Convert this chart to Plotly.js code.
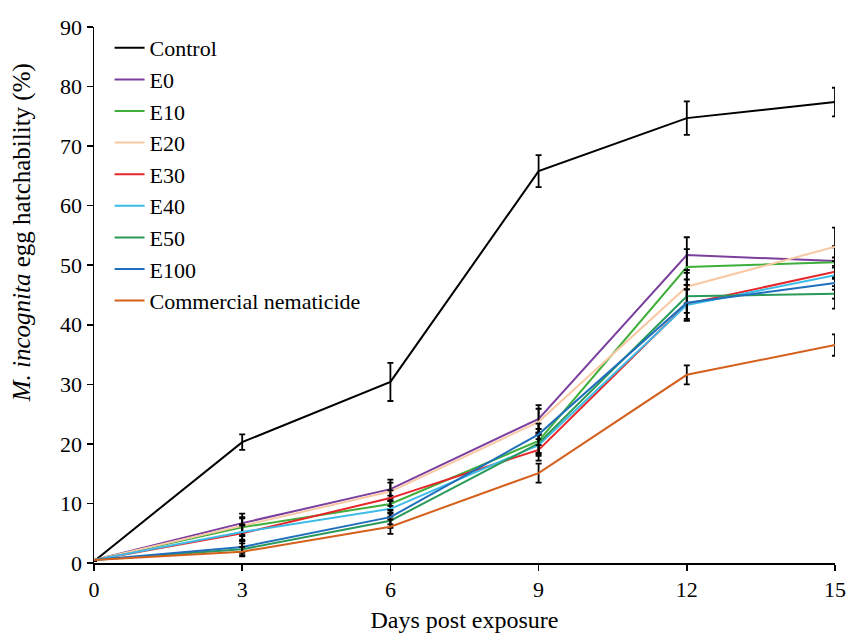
<!DOCTYPE html>
<html>
<head>
<meta charset="utf-8">
<script src="https://cdn.plot.ly/plotly-3.0.1.min.js"></script>
<style>html,body{margin:0;padding:0;background:#fff;}#chart{width:847px;height:633px;}</style>
</head>
<body>
<div id="chart"></div>
<script>
const days = [0, 3, 6, 9, 12, 15];
const seriesNames = ["Control", "E0", "E10", "E20", "E30", "E40", "E50", "E100", "Commercial nematicide"];
const control = [0.3, 20.3, 30.4, 65.8, 74.7, 77.4];
const e0 = [0.5, 6.7, 12.4, 24.2, 51.7, 50.7];
const e10 = [0.5, 6.0, 9.9, 20.5, 49.7, 50.5];
const e20 = [0.5, 6.2, 12.0, 23.7, 46.4, 53.1];
const e30 = [0.5, 5.0, 10.9, 19.0, 43.5, 48.9];
const e40 = [0.5, 5.2, 9.1, 19.8, 43.3, 48.3];
const e50 = [0.5, 2.3, 7.1, 20.1, 44.8, 45.2];
const e100 = [0.5, 2.7, 7.7, 21.6, 43.7, 47.0];
const commercial = [0.5, 1.9, 6.1, 15.1, 31.6, 36.6];

const errControl = [0, 1.3, 3.2, 2.7, 2.8, 2.4];
const errE0 = [0, 1.6, 1.6, 2.3, 3.0, 2.5];
const errE10 = [0, 1.5, 1.4, 2.0, 3.0, 2.5];
const errE20 = [0, 1.5, 1.5, 2.2, 2.8, 3.2];
const errE30 = [0, 1.3, 1.3, 1.8, 2.5, 2.4];
const errE40 = [0, 1.3, 1.3, 1.8, 2.6, 2.4];
const errE50 = [0, 1.0, 1.2, 1.8, 2.8, 2.5];
const errE100 = [0, 1.0, 1.2, 1.8, 3.0, 2.6];
const errCommercial = [0, 0.8, 1.2, 1.6, 1.6, 1.8];

const yTitle = "<i>M. incognita</i> egg hatchability (%)";
const xTitle = "Days post exposure";

const values = [control, e0, e10, e20, e30, e40, e50, e100, commercial];
const errors = [errControl, errE0, errE10, errE20, errE30, errE40, errE50, errE100, errCommercial];
const colors = ["#000000", "#7b3f9e", "#3fae3a", "#f9c9a4", "#e8262a", "#3dbbe9", "#2a9a5a", "#1f6fbd", "#d4601c"];

const traces = seriesNames.map((name, i) => ({
  x: days,
  y: values[i],
  name: name,
  legendgroup: "g" + i,
  type: "scatter",
  mode: "lines",
  line: {color: colors[i], width: 2},
  error_y: {type: "data", array: errors[i], visible: true, color: "#000000", thickness: 1.8, width: 3}
}));

const serif = "Liberation Serif";
const layout = {
  width: 847, height: 633,
  margin: {l: 94, r: 12, t: 27, b: 70},
  paper_bgcolor: "#fff", plot_bgcolor: "#fff",
  font: {family: serif, size: 22, color: "#000"},
  showlegend: true,
  legend: {x: 0.021, y: 1.0, xanchor: "left", yanchor: "top", traceorder: "grouped", tracegroupgap: 0, itemwidth: 30,
    font: {family: serif, size: 22, color: "#000"}, bgcolor: "rgba(0,0,0,0)"},
  xaxis: {
    range: [0, 15], tickmode: "array", tickvals: days, ticktext: days.map(String),
    showgrid: false, zeroline: false, showline: true, linecolor: "#000", linewidth: 1.5,
    ticks: "outside", ticklen: 6, tickwidth: 1.5, tickcolor: "#000",
    tickfont: {family: serif, size: 22, color: "#000"},
    title: {text: xTitle, font: {family: serif, size: 24, color: "#000"}, standoff: 12}
  },
  yaxis: {
    range: [0, 90], dtick: 10,
    showgrid: false, zeroline: false, showline: true, linecolor: "#000", linewidth: 1.5,
    ticks: "outside", ticklen: 6, tickwidth: 1.5, tickcolor: "#000",
    tickfont: {family: serif, size: 22, color: "#000"}
  },
  annotations: [{
    text: yTitle, xref: "paper", yref: "paper", x: -0.0972, y: 0.617,
    xanchor: "center", yanchor: "middle", textangle: -90, showarrow: false,
    font: {family: serif, size: 25, color: "#000"}
  }]
};

Plotly.newPlot("chart", traces, layout, {staticPlot: true, displayModeBar: false});
</script>
</body>
</html>
